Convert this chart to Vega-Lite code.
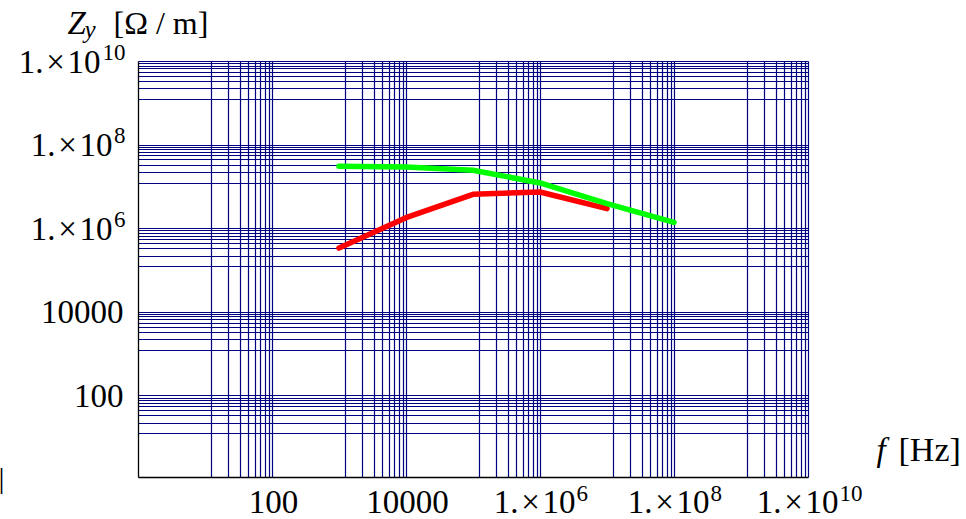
{
  "$schema": "https://vega.github.io/schema/vega-lite/v6.json",
  "autosize": {"type": "none"},
  "width": 670,
  "height": 416,
  "padding": {"left": 138, "top": 61, "right": 158, "bottom": 42},
  "background": "white",
  "config": {"view": {"stroke": null}, "font": "Liberation Serif"},
  "data": {
    "values": [
      {"series": "Zy red", "f": 1000, "Zy": 336000},
      {"series": "Zy red", "f": 10000, "Zy": 1790000},
      {"series": "Zy red", "f": 100000, "Zy": 6470000},
      {"series": "Zy red", "f": 1000000, "Zy": 7350000},
      {"series": "Zy red", "f": 10000000, "Zy": 2940000},
      {"series": "Zy green", "f": 1000, "Zy": 30300000},
      {"series": "Zy green", "f": 10000, "Zy": 29100000},
      {"series": "Zy green", "f": 100000, "Zy": 24300000},
      {"series": "Zy green", "f": 1000000, "Zy": 12100000},
      {"series": "Zy green", "f": 10000000, "Zy": 3880000},
      {"series": "Zy green", "f": 100000000, "Zy": 1380000}
    ]
  },
  "layer": [
    {
      "mark": {"type": "line", "strokeWidth": 5.5, "strokeCap": "round", "strokeJoin": "round"},
      "encoding": {
        "x": {
          "field": "f", "type": "quantitative",
          "scale": {"type": "log", "domain": [1, 10000000000], "nice": false},
          "axis": {
            "orient": "bottom",
            "values": [12.3, 22.22, 33.33, 44.44, 55.56, 66.67, 77.78, 88.89, 100, 1230, 2222, 3333, 4444, 5556, 6667, 7778, 8889, 10000, 123000, 222222, 333333, 444444, 555556, 666667, 777778, 888889, 1000000, 12300000, 22222222, 33333333, 44444444, 55555556, 66666667, 77777778, 88888889, 100000000, 1230000000, 2222222222, 3333333333, 4444444444, 5555555556, 6666666667, 7777777778, 8888888889, 10000000000],
            "labelExpr": "datum.value == 100 ? '100' : datum.value == 10000 ? '10000' : (datum.value == 1000000 || datum.value == 100000000 || datum.value == 10000000000) ? '1.\u200a×\u200a10' : ''",
            "grid": true, "gridColor": "#000080", "gridWidth": 1.2, "gridOpacity": 1,
            "ticks": false,
            "domain": true, "domainColor": "black", "domainWidth": 1.3,
            "labelFont": "Liberation Serif", "labelFontSize": 33, "labelColor": "black",
            "labelBaseline": "alphabetic", "labelPadding": 35,
            "labelAlign": {"condition": {"test": "datum.value >= 1000000", "value": "right"}, "value": "center"},
            "labelOffset": {"condition": [{"test": "datum.value == 10000000000", "value": 30}, {"test": "datum.value >= 1000000", "value": 35}], "value": 1},
            "labelFlush": false, "labelOverlap": false,
            "title": "[Hz]", "titleFont": "Liberation Serif", "titleFontSize": 34, "titleFontWeight": "normal", "titleColor": "black",
            "titleX": 760, "titleY": -17, "titleAlign": "left", "titleBaseline": "alphabetic", "titleAnchor": null
          }
        },
        "y": {
          "field": "Zy", "type": "quantitative",
          "scale": {"type": "log", "domain": [1.12, 10000000000], "nice": false},
          "axis": {
            "orient": "left",
            "values": [12.3, 22.22, 33.33, 44.44, 55.56, 66.67, 77.78, 88.89, 100, 1230, 2222, 3333, 4444, 5556, 6667, 7778, 8889, 10000, 123000, 222222, 333333, 444444, 555556, 666667, 777778, 888889, 1000000, 12300000, 22222222, 33333333, 44444444, 55555556, 66666667, 77777778, 88888889, 100000000, 1230000000, 2222222222, 3333333333, 4444444444, 5555555556, 6666666667, 7777777778, 8888888889, 10000000000],
            "labelExpr": "datum.value == 100 ? '100' : datum.value == 10000 ? '10000' : (datum.value == 1000000 || datum.value == 100000000 || datum.value == 10000000000) ? '1.\u200a×\u200a10' : ''",
            "grid": true, "gridColor": "#000080", "gridWidth": 1.2, "gridOpacity": 1,
            "ticks": false,
            "domain": true, "domainColor": "black", "domainWidth": 1.3,
            "labelFont": "Liberation Serif", "labelFontSize": 33, "labelColor": "black",
            "labelAlign": "right", "labelBaseline": "alphabetic", "labelOffset": 11,
            "labelPadding": {"condition": [{"test": "datum.value == 10000000000", "value": 38}, {"test": "datum.value >= 1000000", "value": 26}], "value": 15},
            "labelFlush": false, "labelOverlap": false,
            "title": null
          }
        },
        "color": {"field": "series", "type": "nominal", "scale": {"domain": ["Zy red", "Zy green"], "range": ["#ff0000", "#00ff00"]}, "legend": null}
      }
    },
    {
      "mark": {"type": "point", "opacity": 0},
      "encoding": {
        "x": {"field": "f", "type": "quantitative", "axis": {"orient": "bottom", "values": [1000000, 100000000, 10000000000], "labelExpr": "datum.value == 1000000 ? '6' : datum.value == 100000000 ? '8' : '10'", "labelFont": "Liberation Serif", "labelFontSize": 23, "labelColor": "black", "labelAlign": "left", "labelBaseline": "alphabetic", "labelPadding": 23, "labelOffset": {"condition": {"test": "datum.value == 10000000000", "value": 31}, "value": 36}, "labelFlush": false, "labelOverlap": false, "ticks": false, "domain": false, "grid": false, "title": "f", "titleFont": "Liberation Serif", "titleFontSize": 33, "titleFontStyle": "italic", "titleFontWeight": "normal", "titleColor": "black", "titleX": 738, "titleY": -17, "titleAlign": "left", "titleBaseline": "alphabetic", "titleAnchor": null}},
        "y": {"field": "Zy", "type": "quantitative", "axis": {"orient": "left", "values": [1000000, 100000000, 10000000000], "labelExpr": "datum.value == 1000000 ? '6' : datum.value == 100000000 ? '8' : '10'", "labelFont": "Liberation Serif", "labelFontSize": 23, "labelColor": "black", "labelAlign": "right", "labelBaseline": "alphabetic", "labelPadding": 13, "labelOffset": -2, "labelFlush": false, "labelOverlap": false, "ticks": false, "domain": false, "grid": false, "title": null}}
      }
    },
    {
      "mark": {"type": "point", "opacity": 0},
      "encoding": {
        "x": {"field": "f", "type": "quantitative", "axis": {"orient": "top", "labels": false, "ticks": false, "domain": false, "grid": false, "title": "Z", "titleFont": "Liberation Serif", "titleFontSize": 33, "titleFontStyle": "italic", "titleFontWeight": "normal", "titleColor": "black", "titleX": -71, "titleY": -28, "titleAlign": "left", "titleBaseline": "alphabetic", "titleAnchor": null}},
        "y": {"field": "Zy", "type": "quantitative", "axis": null}
      }
    },
    {
      "mark": {"type": "point", "opacity": 0},
      "encoding": {
        "x": {"field": "f", "type": "quantitative", "axis": {"orient": "top", "labels": false, "ticks": false, "domain": false, "grid": false, "title": "y", "titleFont": "Liberation Serif", "titleFontSize": 25, "titleFontStyle": "italic", "titleFontWeight": "normal", "titleColor": "black", "titleX": -54, "titleY": -24, "titleAlign": "left", "titleBaseline": "alphabetic", "titleAnchor": null}},
        "y": {"field": "Zy", "type": "quantitative", "axis": null}
      }
    },
    {
      "mark": {"type": "point", "opacity": 0},
      "encoding": {
        "x": {"field": "f", "type": "quantitative", "axis": {"orient": "top", "labels": false, "ticks": false, "domain": false, "grid": false, "title": "[Ω / m]", "titleFont": "Liberation Serif", "titleFontSize": 32, "titleFontWeight": "normal", "titleColor": "black", "titleX": -25, "titleY": -28, "titleAlign": "left", "titleBaseline": "alphabetic", "titleAnchor": null}},
        "y": {"field": "Zy", "type": "quantitative", "axis": null}
      }
    },
    {
      "mark": {"type": "point", "opacity": 0},
      "encoding": {
        "x": {"field": "f", "type": "quantitative", "axis": {"orient": "bottom", "labels": false, "ticks": false, "domain": false, "grid": false, "title": "|", "titleFont": "Liberation Serif", "titleFontSize": 30, "titleFontWeight": "normal", "titleColor": "black", "titleX": -140, "titleY": 10, "titleAlign": "left", "titleBaseline": "alphabetic", "titleAnchor": null}},
        "y": {"field": "Zy", "type": "quantitative", "axis": null}
      }
    }
  ],
  "resolve": {"axis": {"x": "independent", "y": "independent"}}
}
